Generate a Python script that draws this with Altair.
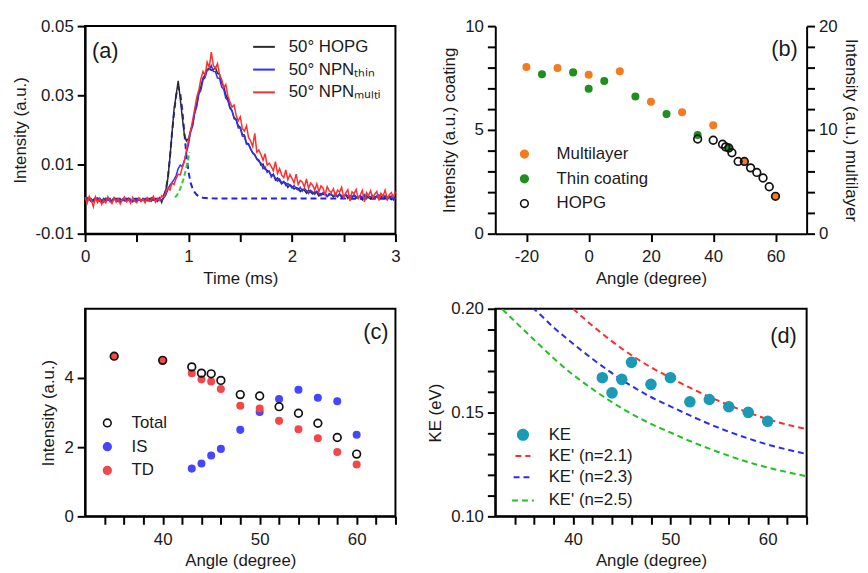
import altair as alt
import pandas as pd

FONT = "Liberation Sans"
TXT = "#1a1a1a"

# ---------------- panel (a) data ----------------
time_ms = [round(i * 0.02, 2) for i in range(151)]
hopg_a = [
    0.0003, -0.0006, 0.0002, -0.0008, -0.0002, 0.0004, -0.0005, -0.0001, -0.0009, 0.0002,
    -0.0004, 0.0001, -0.0007, -0.0003, 0.0003, -0.0006, -0.0002, -0.0008, 0.0000, -0.0005,
    -0.0003, 0.0002, -0.0006, -0.0004, 0.0001, -0.0007, -0.0002, -0.0005, 0.0002, -0.0004,
    -0.0001, -0.0006, 0.0003, -0.0003, 0.0000, -0.0005, 0.0004, -0.0010, 0.0008, 0.0025,
    0.0060, 0.0120, 0.0190, 0.0260, 0.0300, 0.0342, 0.0290, 0.0235, 0.0185, 0.0168,
    0.0175, 0.0198, 0.0217, 0.0252, 0.0276, 0.0309, 0.0326, 0.0350, 0.0359, 0.0375,
    0.0378, 0.0372, 0.0374, 0.0380, 0.0364, 0.0360, 0.0336, 0.0326, 0.0301, 0.0289,
    0.0266, 0.0256, 0.0236, 0.0231, 0.0212, 0.0208, 0.0187, 0.0185, 0.0162, 0.0160,
    0.0146, 0.0134, 0.0128, 0.0117, 0.0112, 0.0098, 0.0101, 0.0086, 0.0083, 0.0079,
    0.0068, 0.0072, 0.0055, 0.0061, 0.0053, 0.0044, 0.0049, 0.0046, 0.0034, 0.0041,
    0.0036, 0.0029, 0.0033, 0.0031, 0.0022, 0.0028, 0.0025, 0.0017, 0.0026, 0.0020,
    0.0015, 0.0021, 0.0019, 0.0009, 0.0016, 0.0013, 0.0018, 0.0007, 0.0012, 0.0014,
    0.0006, 0.0011, 0.0008, 0.0015, 0.0004, 0.0009, 0.0012, 0.0002, 0.0010, 0.0007,
    0.0011, 0.0003, 0.0006, 0.0009, -0.0002, 0.0007, 0.0010, 0.0004, 0.0001, 0.0008,
    0.0005, 0.0009, 0.0000, 0.0006, 0.0011, 0.0002, 0.0004, 0.0008, -0.0001, 0.0006,
    0.0004,
]
thin_a = [
    -0.0002, 0.0004, -0.0003, 0.0001, -0.0007, -0.0001, 0.0003, -0.0006, -0.0002, -0.0009,
    0.0002, -0.0004, -0.0001, -0.0008, 0.0001, -0.0003, -0.0007, 0.0000, -0.0004, -0.0002,
    -0.0006, 0.0001, -0.0003, -0.0008, -0.0001, -0.0004, 0.0002, -0.0006, -0.0003, 0.0000,
    -0.0005, -0.0002, -0.0006, 0.0001, -0.0003, -0.0007, 0.0002, -0.0004, 0.0003, 0.0012,
    0.0028, 0.0040, 0.0048, 0.0056, 0.0068, 0.0088, 0.0098, 0.0094, 0.0112, 0.0135,
    0.0158, 0.0194, 0.0211, 0.0249, 0.0268, 0.0304, 0.0315, 0.0345, 0.0351, 0.0372,
    0.0374, 0.0386, 0.0369, 0.0368, 0.0350, 0.0349, 0.0324, 0.0317, 0.0292, 0.0285,
    0.0262, 0.0255, 0.0232, 0.0229, 0.0206, 0.0205, 0.0182, 0.0181, 0.0159, 0.0158,
    0.0144, 0.0133, 0.0127, 0.0115, 0.0109, 0.0104, 0.0088, 0.0092, 0.0077, 0.0081,
    0.0064, 0.0071, 0.0060, 0.0052, 0.0058, 0.0047, 0.0051, 0.0039, 0.0045, 0.0040,
    0.0032, 0.0039, 0.0030, 0.0026, 0.0034, 0.0023, 0.0031, 0.0024, 0.0016, 0.0025,
    0.0020, 0.0014, 0.0023, 0.0017, 0.0010, 0.0019, 0.0015, 0.0008, 0.0016, 0.0012,
    0.0009, 0.0016, 0.0006, 0.0013, 0.0011, 0.0004, 0.0014, 0.0008, 0.0010, 0.0003,
    0.0012, 0.0007, 0.0002, 0.0010, 0.0005, 0.0013, 0.0001, 0.0008, 0.0006, 0.0011,
    0.0002, 0.0007, 0.0012, 0.0003, 0.0005, 0.0010, -0.0002, 0.0006, 0.0009, -0.0003,
    0.0003,
]
multi_a = [
    0.0005, -0.0012, 0.0008, -0.0004, -0.0022, 0.0006, -0.0010, 0.0002, -0.0015, -0.0003,
    -0.0011, 0.0007, -0.0006, -0.0013, 0.0004, -0.0009, 0.0001, -0.0014, -0.0002, 0.0006,
    -0.0008, -0.0001, -0.0012, 0.0005, -0.0006, -0.0010, 0.0003, -0.0007, 0.0000, -0.0011,
    0.0004, -0.0006, -0.0002, 0.0008, -0.0009, 0.0002, -0.0004, 0.0010, 0.0006, 0.0020,
    0.0032, 0.0026, 0.0046, 0.0042, 0.0060, 0.0072, 0.0070, 0.0092, 0.0108, 0.0142,
    0.0170, 0.0198, 0.0229, 0.0262, 0.0295, 0.0316, 0.0348, 0.0369, 0.0358, 0.0396,
    0.0381, 0.0425, 0.0386, 0.0378, 0.0392, 0.0358, 0.0346, 0.0322, 0.0331, 0.0298,
    0.0281, 0.0266, 0.0272, 0.0242, 0.0226, 0.0238, 0.0204, 0.0196, 0.0212, 0.0178,
    0.0168, 0.0152, 0.0190, 0.0136, 0.0142, 0.0128, 0.0112, 0.0131, 0.0098, 0.0104,
    0.0094, 0.0082, 0.0108, 0.0074, 0.0088, 0.0070, 0.0062, 0.0084, 0.0056, 0.0071,
    0.0060, 0.0047, 0.0072, 0.0042, 0.0054, 0.0049, 0.0035, 0.0058, 0.0031, 0.0046,
    0.0040, 0.0026, 0.0044, 0.0021, 0.0038, 0.0032, 0.0012, 0.0036, 0.0024, 0.0019,
    0.0030, 0.0009, 0.0026, 0.0020, 0.0034, 0.0004, 0.0018, 0.0027, -0.0006, 0.0021,
    0.0016, 0.0028, 0.0002, 0.0012, 0.0025, -0.0008, 0.0019, 0.0010, 0.0024, 0.0003,
    0.0014, 0.0022, -0.0004, 0.0017, 0.0008, 0.0026, 0.0001, 0.0012, 0.0019, 0.0006,
    0.0022,
]
fit1_t = [0.0, 0.72, 0.76, 0.78, 0.80, 0.82, 0.84, 0.86, 0.88, 0.90, 0.92, 0.94, 0.96,
          0.98, 1.00, 1.02, 1.04, 1.06, 1.08, 1.10, 1.14, 1.20, 3.00]
fit1_v = [0.0001, 0.0001, 0.0010, 0.0025, 0.0060, 0.0120, 0.0190, 0.0250, 0.0300, 0.0325,
          0.0305, 0.0255, 0.0190, 0.0125, 0.0078, 0.0047, 0.0030, 0.0019, 0.0012, 0.0008,
          0.0004, 0.0002, 0.0001]
fit2_t = [0.87, 0.89, 0.91, 0.93, 0.95, 0.97, 0.99, 1.01]
fit2_v = [0.0005, 0.0012, 0.0023, 0.0038, 0.0057, 0.0080, 0.0106, 0.0136]
a_labels = ["50° HOPG", "50° NPNₜₕᵢₙ", "50° NPNₘᵤₗₜᵢ"]
a_colors = ["#2b2b2b", "#2e2eff", "#ff2e2e"]

# ---------------- panel (b) data ----------------
multi_angle = [-20, -10, 0, 10, 20, 30, 40, 50, 60]
multi_int = [16.06, 15.96, 15.32, 15.64, 12.72, 11.70, 10.44, 6.94, 3.60]
thin_angle = [-15, -5, 0, 5, 15, 25, 35, 45]
thin_int = [7.68, 7.77, 6.98, 7.36, 6.61, 5.76, 4.75, 4.10]
hopg_angle = [35, 40, 43, 44, 45, 46, 48, 50, 52, 54, 56, 58, 60]
hopg_int = [4.56, 4.50, 4.31, 4.18, 4.13, 3.90, 3.48, 3.48, 3.17, 2.95, 2.68, 2.26, 1.80]
b_labels = ["Multilayer", "Thin coating", "HOPG"]
b_stroke = ["#f47b20", "#1f8f1f", "#111111"]
b_fill = ["#f47b20", "#1f8f1f", "transparent"]

# ---------------- panel (c) data ----------------
total_angle = [35, 40, 43, 44, 45, 46, 48, 50, 52, 54, 56, 58, 60]
total_c = [4.63, 4.51, 4.32, 4.14, 4.12, 3.93, 3.52, 3.48, 3.17, 2.98, 2.69, 2.28, 1.80]
is_angle = [43, 44, 45, 46, 48, 50, 52, 54, 56, 58, 60]
is_c = [1.38, 1.53, 1.76, 1.95, 2.50, 3.02, 3.39, 3.66, 3.43, 3.33, 2.36]
td_angle = [35, 40, 43, 44, 45, 46, 48, 50, 52, 54, 56, 58, 60]
td_c = [4.63, 4.51, 4.14, 3.96, 3.90, 3.68, 3.20, 3.12, 2.76, 2.52, 2.26, 1.86, 1.50]
c_labels = ["Total", "IS", "TD"]
c_stroke = ["#111111", "#4646ff", "#f44848"]
c_fill = ["transparent", "#4646ff", "#f44848"]

# ---------------- panel (d) data ----------------
ke_angle = [43, 44, 45, 46, 48, 50, 52, 54, 56, 58, 60]
ke_val = [0.1668, 0.1595, 0.1660, 0.1742, 0.1636, 0.1668, 0.1552, 0.1563, 0.1528, 0.1501, 0.1458]
n21_angle = [40, 42, 44, 46, 48, 50, 52, 54, 56, 58, 60, 62, 64]
n21_val = [0.2000, 0.1918, 0.1843, 0.1776, 0.1718, 0.1668, 0.1620, 0.1576, 0.1536, 0.1500,
           0.1468, 0.1442, 0.1420]
n23_angle = [35, 36, 38, 40, 42, 44, 46, 48, 50, 52, 54, 56, 58, 60, 62, 64]
n23_val = [0.2035, 0.1998, 0.1910, 0.1832, 0.1758, 0.1690, 0.1628, 0.1575, 0.1530, 0.1486,
           0.1445, 0.1408, 0.1375, 0.1346, 0.1322, 0.1300]
n25_angle = [32, 34, 36, 38, 40, 42, 44, 46, 48, 50, 52, 54, 56, 58, 60, 62, 64]
n25_val = [0.2030, 0.1940, 0.1850, 0.1762, 0.1682, 0.1613, 0.1550, 0.1494, 0.1445, 0.1404,
           0.1363, 0.1326, 0.1292, 0.1261, 0.1235, 0.1213, 0.1193]
d_labels = ["KE", "KE' (n=2.1)", "KE' (n=2.3)", "KE' (n=2.5)"]
d_stroke = ["#1b9ab5", "#ff2a2a", "#2a2aff", "#22c022"]
d_fill = ["#1b9ab5", "transparent", "transparent", "transparent"]

# ---------------- helpers ----------------
W, H = 314, 210
HY = "replace(format(datum.value, '{f}'), '\u2212', '-')"


def minor_x(values, major_mod, title, domain):
    return alt.X("x:Q", scale=alt.Scale(domain=domain, nice=False, zero=False),
                 axis=alt.Axis(values=values, title=title,
                               labelExpr=f"datum.value % {major_mod} == 0 ? format(datum.value, 'd') : ''"))


def tag(text, x, y, align):
    return alt.Chart(pd.DataFrame({"t": [text]})).mark_text(
        font=FONT, fontSize=22, align=align, baseline="middle", color=TXT
    ).encode(text="t:N", x=alt.value(x), y=alt.value(y))


# ---------------- panel (a) ----------------
leg_a = alt.Legend(title=None, orient="none", legendX=169, legendY=9, symbolType="stroke",
                   symbolSize=484, symbolStrokeWidth=2, labelOffset=13, rowPadding=3)
color_a = alt.Color("s:N", scale=alt.Scale(domain=a_labels, range=a_colors), legend=leg_a)
xa = alt.X("x:Q", scale=alt.Scale(domain=[0, 3], nice=False, zero=False),
           axis=alt.Axis(values=[0, 0.5, 1, 1.5, 2, 2.5, 3], title="Time (ms)",
                         labelExpr="datum.value % 1 == 0 ? format(datum.value, 'd') : ''"))
ya = alt.Y("y:Q", scale=alt.Scale(domain=[-0.01, 0.05], nice=False, zero=False),
           axis=alt.Axis(values=[-0.01, 0.01, 0.03, 0.05], labelExpr=HY.format(f=".2f"),
                         title="Intensity (a.u.)"))

fit1 = alt.Chart(pd.DataFrame({"x": fit1_t, "y": fit1_v})).mark_line(
    color="#1f1fee", strokeWidth=2, strokeDash=[6, 4]).encode(x=xa, y=ya)
fit2 = alt.Chart(pd.DataFrame({"x": fit2_t, "y": fit2_v})).mark_line(
    color="#33cc33", strokeWidth=2, strokeDash=[5, 3]).encode(x=xa, y=ya)
trace_layers = []
for lab, vals in zip(a_labels, [hopg_a, thin_a, multi_a]):
    df = pd.DataFrame({"x": time_ms, "y": vals, "s": [lab] * len(vals)})
    trace_layers.append(alt.Chart(df).mark_line(strokeWidth=1.5).encode(x=xa, y=ya, color=color_a))
pa = alt.layer(fit1, fit2, *trace_layers, tag("(a)", 7, 25, "left")).properties(width=W, height=H)

# ---------------- panel (b) ----------------
leg_b = alt.Legend(title=None, orient="none", legendX=21, legendY=121, symbolSize=60,
                   symbolStrokeWidth=1.6, labelOffset=24, rowPadding=7)
color_b = alt.Color("s:N", scale=alt.Scale(domain=b_labels, range=b_stroke), legend=leg_b)
fill_b = alt.Fill("s:N", scale=alt.Scale(domain=b_labels, range=b_fill), legend=leg_b)
xb = alt.X("x:Q", scale=alt.Scale(domain=[-30, 70], nice=False, zero=False),
           axis=alt.Axis(values=[-20, 0, 20, 40, 60], title="Angle (degree)",
                         labelExpr=HY.format(f="d")))
yb_left = alt.Y("y:Q", scale=alt.Scale(domain=[0, 10], nice=False),
                axis=alt.Axis(values=list(range(0, 11)), title="Intensity (a.u.) coating",
                              labelExpr="datum.value % 5 == 0 ? format(datum.value, 'd') : ''"))
yb_right = alt.Y("y:Q", scale=alt.Scale(domain=[0, 20], nice=False),
                 axis=alt.Axis(values=list(range(0, 21, 2)), orient="right",
                               title="Intensity (a.u.) multilayer", titlePadding=4,
                               labelExpr="datum.value % 10 == 0 ? format(datum.value, 'd') : ''"))
yb_hidden = alt.Y("y:Q", scale=alt.Scale(domain=[0, 10], nice=False), axis=None)

thin_b = alt.Chart(pd.DataFrame({"x": thin_angle, "y": thin_int, "s": ["Thin coating"] * len(thin_int)})
                   ).mark_point(size=44, strokeWidth=1.5, opacity=1).encode(x=xb, y=yb_left, color=color_b, fill=fill_b)
multi_b = alt.Chart(pd.DataFrame({"x": multi_angle, "y": multi_int, "s": ["Multilayer"] * len(multi_int)})
                    ).mark_point(size=44, strokeWidth=1.5, opacity=1).encode(x=xb, y=yb_right, color=color_b, fill=fill_b)
hopg_b = alt.Chart(pd.DataFrame({"x": hopg_angle, "y": hopg_int, "s": ["HOPG"] * len(hopg_int)})
                   ).mark_point(size=60, strokeWidth=1.7, opacity=1).encode(x=xb, y=yb_hidden, color=color_b, fill=fill_b)
pb = alt.layer(thin_b, multi_b, hopg_b, tag("(b)", 306, 23, "right")).resolve_scale(
    y="independent").properties(width=W + 1, height=H, view=alt.ViewBackground(stroke="transparent"))

# ---------------- panel (c) ----------------
leg_c = alt.Legend(title=None, orient="none", legendX=14, legendY=107, symbolSize=60,
                   symbolStrokeWidth=1.6, labelOffset=16, rowPadding=6)
color_c = alt.Color("s:N", scale=alt.Scale(domain=c_labels, range=c_stroke), legend=leg_c)
fill_c = alt.Fill("s:N", scale=alt.Scale(domain=c_labels, range=c_fill), legend=leg_c)
xc = minor_x(list(range(34, 65, 2)), 10, "Angle (degree)", [32, 64])
yc = alt.Y("y:Q", scale=alt.Scale(domain=[0, 6], nice=False),
           axis=alt.Axis(values=[0, 2, 4], title="Intensity (a.u.)", format="d"))
dots_c = pd.DataFrame({
    "x": is_angle + td_angle,
    "y": is_c + td_c,
    "s": ["IS"] * len(is_c) + ["TD"] * len(td_c),
})
rings_c = pd.DataFrame({"x": total_angle, "y": total_c, "s": ["Total"] * len(total_c)})
dots_c_l = alt.Chart(dots_c).mark_point(size=44, strokeWidth=1.5, opacity=1).encode(
    x=xc, y=yc, color=color_c, fill=fill_c)
rings_c_l = alt.Chart(rings_c).mark_point(size=60, strokeWidth=1.7, opacity=1).encode(
    x=xc, y=yc, color=color_c, fill=fill_c)
pc = alt.layer(dots_c_l, rings_c_l, tag("(c)", 307, 24, "right")).properties(width=W, height=H)

# ---------------- panel (d) ----------------
leg_d = alt.Legend(title=None, orient="none", legendX=16, legendY=119,
                   symbolStrokeWidth=2, labelOffset=14, rowPadding=3)
color_d = alt.Color("s:N", scale=alt.Scale(domain=d_labels, range=d_stroke), legend=leg_d)
fill_d = alt.Fill("s:N", scale=alt.Scale(domain=d_labels, range=d_fill), legend=leg_d)
shape_d = alt.Shape("s:N", scale=alt.Scale(domain=d_labels, range=["circle", "stroke", "stroke", "stroke"]), legend=leg_d)
size_d = alt.Size("s:N", scale=alt.Scale(domain=d_labels, range=[105, 484, 484, 484]), legend=leg_d)
dash_d = alt.StrokeDash("s:N", scale=alt.Scale(domain=d_labels, range=[[1, 0], [6, 4], [6, 4], [6, 4]]), legend=leg_d)
xd = minor_x(list(range(34, 65, 2)), 10, "Angle (degree)", [32, 64])
yd = alt.Y("y:Q", scale=alt.Scale(domain=[0.10, 0.20], nice=False, zero=False),
           axis=alt.Axis(values=[0.10, 0.11, 0.12, 0.13, 0.14, 0.15, 0.16, 0.17, 0.18, 0.19, 0.20],
                         title="KE (eV)",
                         labelExpr="round(datum.value * 100) % 5 == 0 ? format(datum.value, '.2f') : ''"))
curves = pd.DataFrame({
    "x": n21_angle + n23_angle + n25_angle,
    "y": n21_val + n23_val + n25_val,
    "s": [d_labels[1]] * len(n21_val) + [d_labels[2]] * len(n23_val) + [d_labels[3]] * len(n25_val),
})
ke_df = pd.DataFrame({"x": ke_angle, "y": ke_val, "s": ["KE"] * len(ke_val)})
lines_d = alt.Chart(curves).mark_line(strokeWidth=2, clip=True, interpolate="monotone").encode(
    x=xd, y=yd, color=color_d, strokeDash=dash_d)
pts_d = alt.Chart(ke_df).mark_point(strokeWidth=1.5, opacity=1).encode(
    x=xd, y=yd, color=color_d, fill=fill_d, shape=shape_d, size=size_d)
pd_ = alt.layer(lines_d, pts_d, tag("(d)", 305, 28, "right")).properties(width=W + 1, height=H)

# ---------------- assemble ----------------
chart = alt.concat(pa, pb, pc, pd_, columns=2, spacing={"row": 76, "column": 101}, bounds="flush").resolve_scale(
    color="independent", fill="independent", shape="independent", size="independent", strokeDash="independent"
).properties(
    padding={"left": 2, "top": 5, "right": 0, "bottom": 0}
).configure_axis(
    labelFont=FONT, titleFont=FONT, labelFontSize=17, titleFontSize=17, titleFontWeight="normal",
    labelColor=TXT, titleColor=TXT, domainColor="black", domainWidth=2, tickColor="black",
    tickWidth=2, tickSize=8, labelPadding=4, titlePadding=6, grid=False, labelFlush=False,
    labelOverlap=False, labelBound=False
).configure_axisX(
    labelPadding=7
).configure_legend(
    labelFont=FONT, labelFontSize=17, labelColor=TXT, padding=0
).configure_view(
    stroke="black", strokeWidth=2
)

chart.save("out.html", embed_options={"renderer": "svg", "actions": False})
